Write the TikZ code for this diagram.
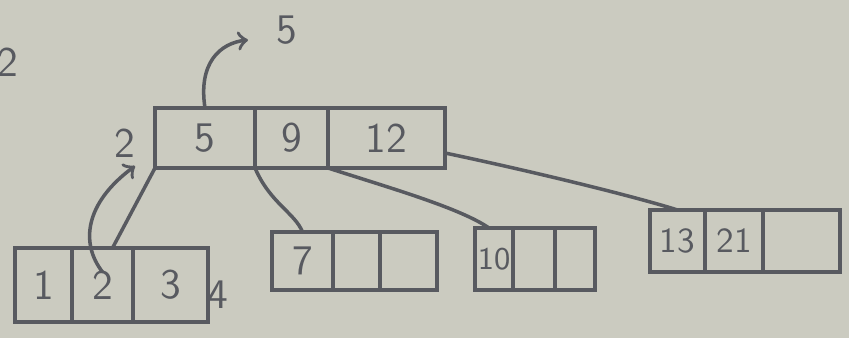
\documentclass[tikz,border=0pt]{standalone}
\usepackage{tikz}
\usepackage{xcolor}
\usetikzlibrary{arrows}
\usetikzlibrary{positioning}

\definecolor{paper}{RGB}{203,203,192}
\definecolor{pencil}{RGB}{88,90,96}

\tikzset{
  cell/.style={draw=pencil,line width=1pt,inner sep=0pt,outer sep=0pt,
    minimum height=#1,font=\sffamily\large,text=pencil},
  cell/.default=0.6cm,
  pen/.style={pencil,line width=1pt},
  lbl/.style={font=\sffamily\large,text=pencil,inner sep=1pt}
}

\begin{document}
\begin{tikzpicture}
\fill[paper] (0,0) rectangle (8.49,3.38);
\useasboundingbox (0,0) rectangle (8.49,3.38);
% root
\node[cell,minimum width=1.00cm] (r1) at (2.05,2.00) {5};
\node[cell,minimum width=0.73cm,right=0pt of r1] (r2) {9};
\node[cell,minimum width=1.17cm,right=0pt of r2] (r3) {12};
% leaves
\node[cell=0.74cm,minimum width=0.57cm] (a1) at (0.435,0.53) {1};
\node[cell=0.74cm,minimum width=0.61cm,right=0pt of a1] (a2) {2};
\node[cell=0.74cm,minimum width=0.75cm,right=0pt of a2] (a3) {3};
\node[cell=0.58cm,minimum width=0.61cm] (b1) at (3.025,0.77) {7};
\node[cell=0.58cm,minimum width=0.47cm,right=0pt of b1] (b2) {};
\node[cell=0.58cm,minimum width=0.57cm,right=0pt of b2] (b3) {};
\node[cell=0.62cm,minimum width=0.38cm,font=\sffamily\small] (c1) at (4.94,0.79) {10};
\node[cell=0.62cm,minimum width=0.42cm,right=0pt of c1] (c2) {};
\node[cell=0.62cm,minimum width=0.40cm,right=0pt of c2] (c3) {};
\node[cell=0.62cm,minimum width=0.55cm,font=\sffamily] (d1) at (6.775,0.97) {13};
\node[cell=0.62cm,minimum width=0.58cm,right=0pt of d1,font=\sffamily] (d2) {21};
\node[cell=0.62cm,minimum width=0.77cm,right=0pt of d2] (d3) {};
% labels
\node[lbl] (corner) at (0.08,2.76) {2};
\node[lbl] (up) at (1.25,1.95) {2};
\node[lbl] (top) at (2.87,3.08) {5};
\node[lbl] (four) at (2.18,0.43) {4};
\coordinate (toptip) at (2.48,2.98);
\coordinate (uptip) at (1.35,1.72);
% children
\draw[pen] ([xshift=1mm]a2.north) -- (r1.south west);
\draw[pen] (r1.south east) .. controls (2.70,1.35) and (2.95,1.25) .. (b1.north);
\draw[pen] (r2.south east) .. controls (3.90,1.50) and (4.60,1.30) .. ([xshift=-0.5mm]c1.north);
\draw[pen] ([yshift=-1.5mm]r3.east) .. controls (5.40,1.65) and (6.40,1.40) .. (d1.north);
% promoted keys
\draw[pen,->] (r1.north) .. controls (1.98,2.75) and (2.20,2.95) .. (toptip);
\draw[pen,->] ([yshift=1.3mm]a2.center) .. controls (0.80,0.95) and (0.85,1.35) .. (uptip);
\end{tikzpicture}
\end{document}
